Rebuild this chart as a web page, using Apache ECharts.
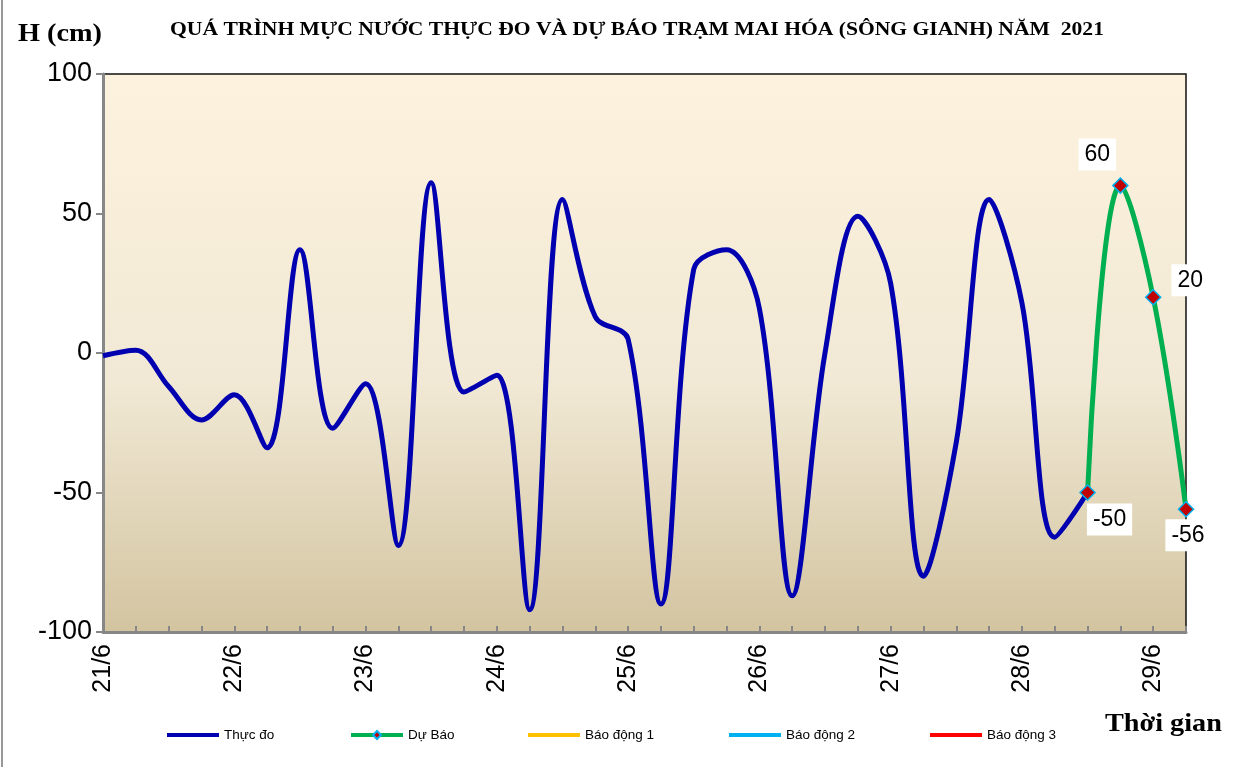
<!DOCTYPE html>
<html>
<head>
<meta charset="utf-8">
<title>Mực nước Mai Hóa</title>
<script src="https://cdn.jsdelivr.net/npm/echarts@6/dist/echarts.min.js"></script>
<style>
    html, body { margin: 0; padding: 0; background: #fff; }
    #chart { width: 1237px; height: 767px; }
</style>
</head>
<body>
<div id="chart"></div>
<script>
    // moc 6 gio mot lan, tinh tu 0h ngay 21/6
    const stepHours = 6;
    const dayLabels = ['21/6', '22/6', '23/6', '24/6', '25/6', '26/6', '27/6', '28/6', '29/6'];
    // muc nuoc thuc do (cm), 21/6 0h -> 28/6 12h
    const measured = [
        -1, 1, -12, -24, -15, -34, 37, -27, -11, -69, 61,
        -14, -8, -92, 55, 13, 5, -90, 30, 37, 16,
        -87, 0, 49, 25, -80, -32, 55, 18, -66, -50
    ];
    // du bao (cm), 28/6 12h -> 29/6 6h
    const forecastStart = 180;
    const forecast = [-50, 60, 20, -56];
    const seriesNames = ['Thực đo', 'Dự Báo', 'Báo động 1', 'Báo động 2', 'Báo động 3'];

    // vi tri nhan cac diem du bao
    const labelOffsets = [[22, 27], [-23, -31], [37, -17], [2, 26]];

    const measuredData = measured.map((v, i) => [i * stepHours, v]);
    const forecastData = forecast.map((v, i) => ({
        value: [forecastStart + i * stepHours, v],
        label: { offset: labelOffsets[i] }
    }));

    const chart = echarts.init(document.getElementById('chart'));
    const axisGray = '#878787';
    const font = 'Liberation Sans, Arial, sans-serif';
    const serif = 'Liberation Serif, Times New Roman, serif';

    const legendLeft = [167, 349, 528, 729, 930];
    const legends = seriesNames.map((name, i) => ({
        data: [name],
        left: legendLeft[i],
        top: 728,
        padding: 0,
        icon: i === 1 ? undefined : 'rect',
        itemWidth: 52,
        itemHeight: i === 1 ? 10 : 4,
        lineStyle: { width: 4 },
        textStyle: { fontSize: 13.5, fontFamily: font, color: '#000' }
    }));

    const option = {
        backgroundColor: '#fff',
        animation: false,
        graphic: [
            {
                type: 'text', x: 170, y: 21, scaleX: 1.2,
                style: {
                    text: 'QUÁ TRÌNH MỰC NƯỚC THỰC ĐO VÀ DỰ BÁO TRẠM MAI HÓA (SÔNG GIANH) NĂM  2021',
                    font: 'bold 18px ' + serif, fill: '#000'
                }
            },
            {
                type: 'text', x: 18, y: 22, scaleX: 1.13,
                style: { text: 'H (cm)', font: 'bold 25px ' + serif, fill: '#000' }
            },
            {
                type: 'text', x: 1105, y: 712, scaleX: 1.13,
                style: { text: 'Thời gian', font: 'bold 25px ' + serif, fill: '#000' }
            },
            {
                type: 'line', shape: { x1: 2, y1: 0, x2: 2, y2: 767 },
                style: { stroke: '#999', lineWidth: 2 }
            }
        ],
        legend: legends,
        grid: {
            left: 103, right: 51, top: 74, bottom: 135,
            show: true,
            borderColor: '#111',
            borderWidth: 1.5,
            backgroundColor: new echarts.graphic.LinearGradient(0, 0, 0, 1, [
                { offset: 0, color: '#fdf2de' },
                { offset: 0.55, color: '#f1e9d5' },
                { offset: 1, color: '#d3c4a0' }
            ])
        },
        xAxis: {
            type: 'value',
            min: 0,
            max: 198,
            interval: stepHours,
            axisLine: { show: true, onZero: false, lineStyle: { color: axisGray, width: 3 } },
            axisTick: { show: true, inside: true, length: 6, lineStyle: { color: axisGray, width: 2 } },
            splitLine: { show: false },
            axisLabel: {
                rotate: 90,
                margin: 12,
                fontSize: 25,
                fontFamily: font,
                color: '#000',
                formatter: v => (v % 24 === 0 ? dayLabels[v / 24] : '')
            }
        },
        yAxis: {
            type: 'value',
            min: -100,
            max: 100,
            interval: 50,
            axisLine: { show: true, lineStyle: { color: axisGray, width: 3 } },
            axisTick: { show: true, length: 7, lineStyle: { color: axisGray, width: 2 } },
            splitLine: { show: false },
            axisLabel: { margin: 11, fontSize: 27, fontFamily: font, color: '#000' }
        },
        series: [
            {
                name: seriesNames[0],
                type: 'line',
                data: measuredData,
                smooth: 0.35,
                symbol: 'none',
                lineStyle: { color: '#0000b0', width: 5 },
                itemStyle: { color: '#0000b0' },
                z: 3
            },
            {
                name: seriesNames[1],
                type: 'line',
                data: forecastData,
                smooth: 0.4,
                symbol: 'diamond',
                symbolSize: 15,
                lineStyle: { color: '#00b050', width: 5 },
                itemStyle: { color: '#c00000', borderColor: '#00b0f0', borderWidth: 1.5 },
                label: {
                    show: true,
                    position: 'inside',
                    fontSize: 23,
                    fontFamily: font,
                    color: '#000',
                    backgroundColor: '#fff',
                    padding: [5, 6, 4, 6]
                },
                z: 4
            },
            {
                name: seriesNames[2], type: 'line', data: [], symbol: 'none',
                lineStyle: { color: '#ffc000', width: 4 }, itemStyle: { color: '#ffc000' }
            },
            {
                name: seriesNames[3], type: 'line', data: [], symbol: 'none',
                lineStyle: { color: '#00b0f0', width: 4 }, itemStyle: { color: '#00b0f0' }
            },
            {
                name: seriesNames[4], type: 'line', data: [], symbol: 'none',
                lineStyle: { color: '#ff0000', width: 4 }, itemStyle: { color: '#ff0000' }
            }
        ]
    };

    chart.setOption(option);
    window.addEventListener('resize', chart.resize);
</script>
</body>
</html>
